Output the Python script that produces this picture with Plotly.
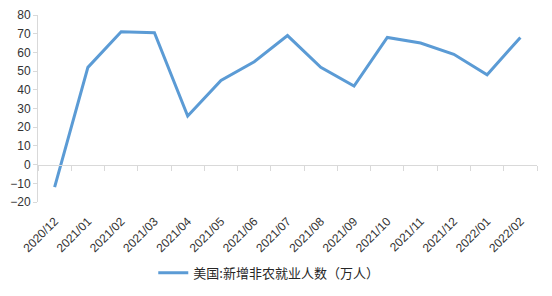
import plotly.graph_objects as go

months = ["2020/12", "2021/01", "2021/02", "2021/03", "2021/04", "2021/05", "2021/06",
          "2021/07", "2021/08", "2021/09", "2021/10", "2021/11", "2021/12", "2022/01", "2022/02"]
payrolls = [-12, 52, 71, 70.5, 26, 45, 55, 69, 52, 42, 68, 65, 59, 48, 68]
series_name = "美国:新增非农就业人数（万人）"
y_ticks = [-20, -10, 0, 10, 20, 30, 40, 50, 60, 70, 80]

fig = go.Figure()
fig.add_trace(go.Scatter(x=months, y=payrolls, mode="lines", name=series_name,
                         line=dict(color="#5B9BD5", width=3), xaxis="x", yaxis="y"))
# dummy trace for the label axis
fig.add_trace(go.Scatter(x=months, y=[None] * len(months), mode="lines", showlegend=False,
                         hoverinfo="skip", xaxis="x2", yaxis="y"))

tick_font = dict(family="Liberation Sans, Arial", size=12, color="#333333")
x_range = [-0.5, len(months) - 0.5]

fig.update_layout(
    width=552, height=296,
    margin=dict(l=38, r=15, t=15, b=94, autoexpand=False),
    paper_bgcolor="white", plot_bgcolor="white",
    showlegend=True,
    legend=dict(x=0.231, y=-0.378, xanchor="left", yanchor="middle", orientation="h",
                font=dict(family="Noto Sans CJK SC", size=13, color="#262626"),
                bgcolor="rgba(0,0,0,0)"),
    xaxis=dict(type="category", categoryorder="array", categoryarray=months,
               range=x_range, autorange=False, automargin=False,
               anchor="free", position=0.2, showticklabels=False,
               ticks="outside", tickson="boundaries", ticklen=5, tickcolor="#D9D9D9",
               showline=True, linecolor="#D9D9D9", linewidth=1, showgrid=False, zeroline=False),
    xaxis2=dict(type="category", categoryorder="array", categoryarray=months,
                range=x_range, autorange=False, automargin=False,
                overlaying="x", anchor="y", side="bottom",
                tickangle=-45, tickfont=tick_font, showline=False, ticks="",
                ticklabelstandoff=9,
                showgrid=False, zeroline=False),
    yaxis=dict(range=[-20, 80], tickvals=y_ticks, tickfont=tick_font, automargin=False,
               showline=True, linecolor="#D9D9D9", linewidth=1,
               ticks="outside", ticklen=4, tickcolor="#D9D9D9",
               showgrid=False, zeroline=False),
)

fig.write_html("out.html")
